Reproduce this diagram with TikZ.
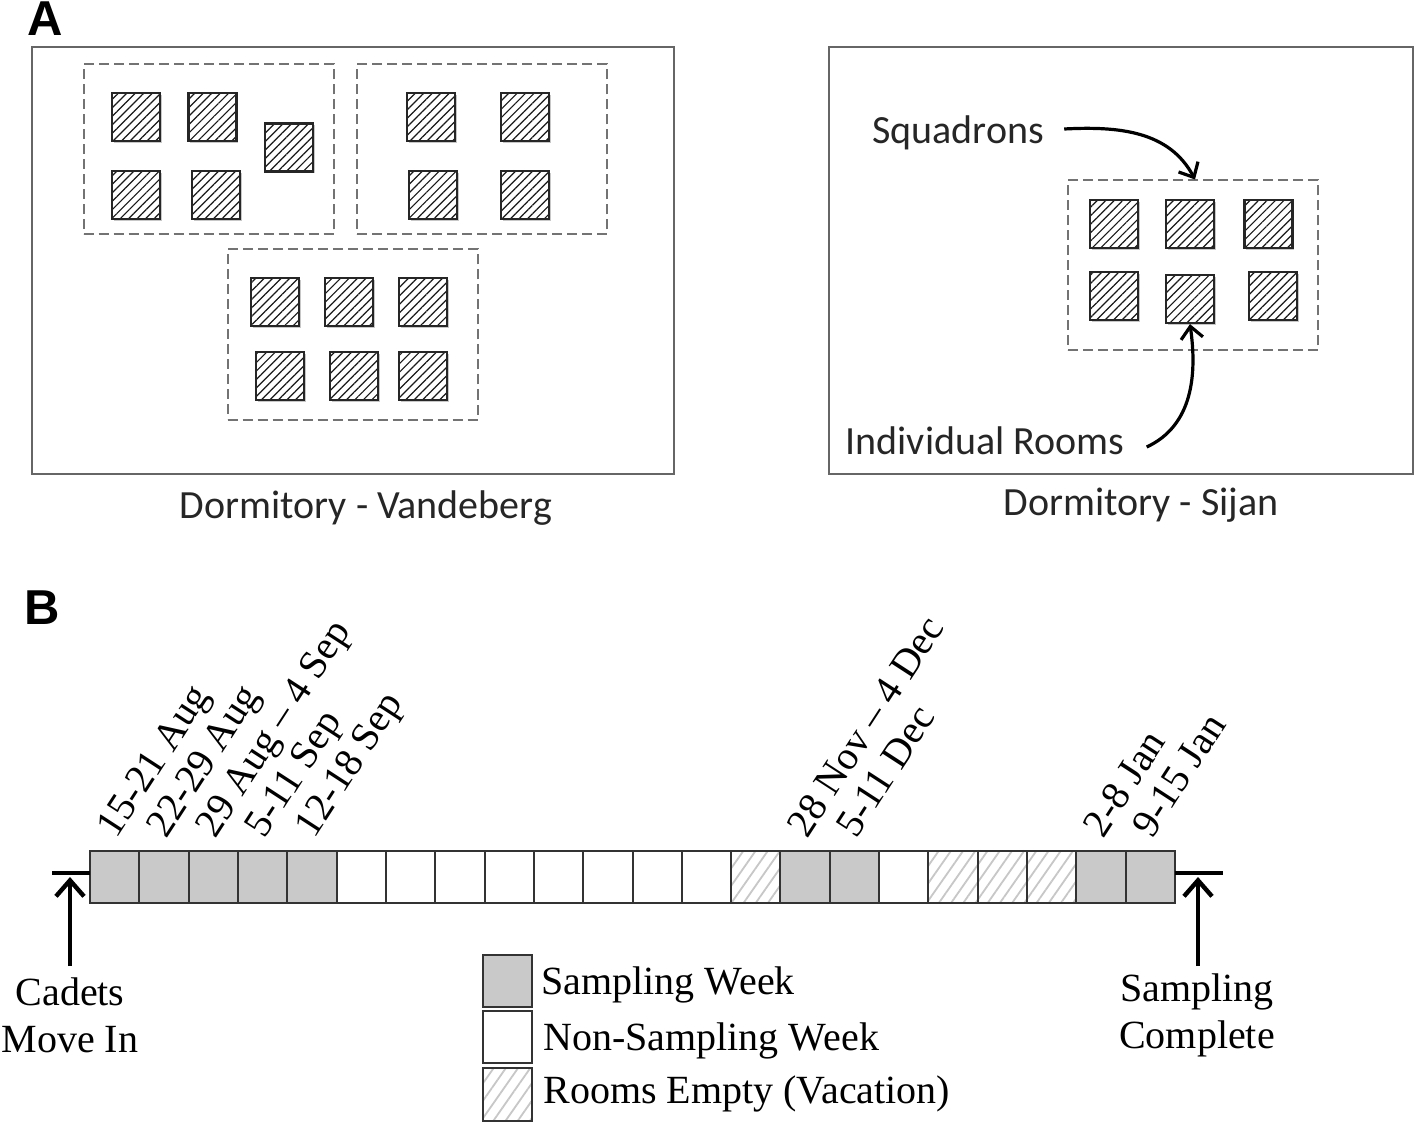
\documentclass[tikz,border=0pt]{standalone}
\usepackage{fontspec}
\setmainfont{Liberation Serif}
\newfontfamily\calibrifont{Carlito}
\newfontfamily\arialfont{Liberation Sans}
\usetikzlibrary{patterns.meta,arrows.meta,shadows}
\begin{document}
\begin{tikzpicture}[x=0.5pt,y=-0.5pt,
  panel/.style={draw=black!60,line width=1.1pt},
  squad/.style={draw=black!55,line width=1pt,dash pattern=on 5pt off 2.5pt,inner sep=0pt,minimum width=125pt,minimum height=85pt},
  room/.style={draw=black!85,line width=1.1pt,
    drop shadow={shadow xshift=0.9pt,shadow yshift=-0.9pt,opacity=0.22,fill=black},
    preaction={fill=white},
    pattern={Lines[angle=45,distance=3pt,line width=0.6pt]},pattern color=black!90,
    minimum size=24pt,inner sep=0pt},
  sanslbl/.style={font=\calibrifont\fontsize{20}{24}\selectfont,text=black!85,inner sep=0pt},
  panellbl/.style={font=\arialfont\bfseries\fontsize{24.5}{28}\selectfont,inner sep=0pt},
  serif/.style={font=\fontsize{20}{23.5}\selectfont,inner sep=0pt},
  wk/.style={draw=black!80,line width=1pt,minimum width=24.66pt,minimum height=26pt,inner sep=0pt},
  samp/.style={wk,fill=black!21},
  nonsamp/.style={wk,fill=white},
  vac/.style={wk,preaction={fill=white},pattern={Lines[angle=55,distance=5pt,line width=0.9pt]},pattern color=black!22},
  curvearrow/.style={line width=1.6pt,-{Straight Barb[length=6pt,width=11pt]}},
  tickarrow/.style={line width=2.2pt,-{Straight Barb[length=8pt,width=14pt]}},
  tickbar/.style={line width=2.2pt},
  datelbl/.style={font=\fontsize{20}{23}\selectfont,inner sep=0pt,rotate=57,anchor=base west}
]
\useasboundingbox (0,0) rectangle (1418,1128);

% ---------- Panel A ----------
\node[panellbl] (labA) at (45,19) {A};
\node[panel,inner sep=0pt,minimum width=321pt,minimum height=213.5pt] (dormV) at (353,260.5) {};
\node[panel,inner sep=0pt,minimum width=292pt,minimum height=213.5pt] (dormS) at (1121,260.5) {};

\node[squad] (sq1) at (208.5,149.5) {};
\node[squad] (sq2) at (482,149.5) {};
\node[squad] (sq3) at (352.5,334.5) {};
\node[squad] (sqR) at (1193,265.5) {};

% rooms squadron 1
\node[room] (r11) at (136,117) {};
\node[room] (r12) at (212.5,117) {};
\node[room] (r13) at (289,147.5) {};
\node[room] (r14) at (136,195) {};
\node[room] (r15) at (216,195) {};
% squadron 2
\node[room] (r21) at (431,117) {};
\node[room] (r22) at (525,117) {};
\node[room] (r23) at (433,195) {};
\node[room] (r24) at (525,195) {};
% squadron 3
\node[room] (r31) at (275,302) {};
\node[room] (r32) at (349,302) {};
\node[room] (r33) at (423,302) {};
\node[room] (r34) at (280,376) {};
\node[room] (r35) at (354,376) {};
\node[room] (r36) at (423,376) {};
% Sijan
\node[room] (s1) at (1114,224) {};
\node[room] (s2) at (1190,224) {};
\node[room] (s3) at (1268.5,224) {};
\node[room] (s4) at (1114,296) {};
\node[room] (s5) at (1190,299) {};
\node[room] (s6) at (1273,296) {};

\node[sanslbl] (capV) at (366,508) {Dormitory - Vandeberg};
\node[sanslbl] (capS) at (1141,505) {Dormitory - Sijan};
\node[sanslbl] (sqtxt) at (958,133) {Squadrons};
\node[sanslbl] (rmtxt) at (985,441) {Individual Rooms};

\draw[curvearrow] ([xshift=10pt,yshift=2pt]sqtxt.east) to[out=3,in=118] ([xshift=1pt]sqR.north);
\draw[curvearrow] ([xshift=11pt,yshift=-3pt]rmtxt.east) to[out=25,in=-82] (s5.south);

% ---------- Panel B ----------
\node[panellbl] (labB) at (42,608) {B};

\foreach \t [count=\i] in {samp,samp,samp,samp,samp,nonsamp,nonsamp,nonsamp,nonsamp,nonsamp,nonsamp,nonsamp,nonsamp,vac,samp,samp,nonsamp,vac,vac,vac,samp,samp}{
  \node[\t] (w\i) at ({90+49.32*(\i-0.5)},876.5) {};
}

\node[datelbl] (d1) at ([xshift=1pt]w1.north |- 0,840) {15-21 Aug};
\node[datelbl] (d2) at ([xshift=1pt]w2.north |- 0,840) {22-29 Aug};
\node[datelbl] (d3) at ([xshift=1pt]w3.north |- 0,840) {29 Aug – 4 Sep};
\node[datelbl] (d4) at ([xshift=1pt]w4.north |- 0,840) {5-11 Sep};
\node[datelbl] (d5) at ([xshift=1pt]w5.north |- 0,840) {12-18 Sep};
\node[datelbl] (d15) at ([xshift=1pt]w15.north |- 0,840) {28 Nov – 4 Dec};
\node[datelbl] (d16) at ([xshift=1pt]w16.north |- 0,840) {5-11 Dec};
\node[datelbl] (d21) at ([xshift=1pt]w21.north |- 0,840) {2-8 Jan};
\node[datelbl] (d22) at ([xshift=1pt]w22.north |- 0,840) {9-15 Jan};

% start / end markers
\coordinate (lbar) at (52,873);
\coordinate (lbarR) at (90,873);
\coordinate (rbarL) at (1175,873);
\coordinate (rbar) at (1223,873);
\draw[tickbar] (lbar) -- (lbarR);
\draw[tickbar] (rbarL) -- (rbar);
\coordinate (ltip) at (70,877);
\coordinate (rtip) at (1198,877);

\node[serif,align=center] (cadets) at (70,1015) {Cadets\\Move In};
\node[serif,align=center] (complete) at (1197,1015) {Sampling\\Complete};
\coordinate (lstart) at (70,966);
\coordinate (rstart) at (1198,966);
\draw[tickarrow] (lstart) -- (ltip);
\draw[tickarrow] (rstart) -- (rtip);

% legend
\node[samp,minimum width=24.5pt,minimum height=26pt] (lg1) at (507.5,981) {};
\node[nonsamp,minimum width=24.5pt,minimum height=26pt] (lg2) at (507.5,1037) {};
\node[vac,minimum width=24.5pt,minimum height=26.5pt] (lg3) at (507.5,1094.5) {};
\node[serif,anchor=west] (lt1) at (541,985) {Sampling Week};
\node[serif,anchor=west] (lt2) at (543,1041) {Non-Sampling Week};
\node[serif,anchor=west] (lt3) at (543,1094) {Rooms Empty (Vacation)};
\end{tikzpicture}
\end{document}
